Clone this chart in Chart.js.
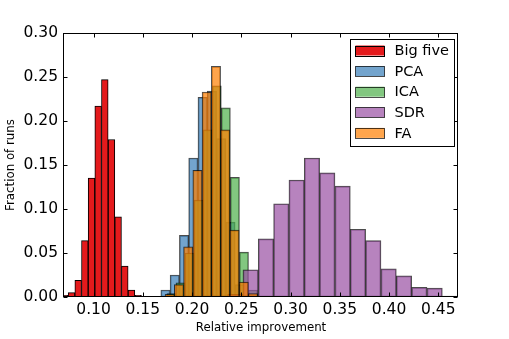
<!DOCTYPE html>
<html>
<head>
<meta charset="utf-8">
<script src="https://cdn.jsdelivr.net/npm/chart.js@4.4.1/dist/chart.umd.min.js"></script>
<style>
  html, body { margin: 0; padding: 0; background: #fff; }
</style>
</head>
<body>
<canvas id="hist" width="509" height="339"></canvas>
<script>
// histogram data
const seriesNames = ["Big five", "PCA", "ICA", "SDR", "FA"];
// first bin edge and bin width of every series
const binStarts = [0.0675, 0.1683, 0.1745, 0.2361, 0.1726];
const binWidths = [0.00676, 0.00943, 0.0092, 0.01557, 0.0094];

const bigFive = [0.002, 0.005, 0.019, 0.064, 0.135, 0.217, 0.247, 0.179, 0.091, 0.035, 0.008, 0.002];
const pca = [0.008, 0.025, 0.070, 0.158, 0.227, 0.234, 0.180, 0.085, 0.014, 0.002];
const ica = [0.004, 0.016, 0.050, 0.110, 0.190, 0.240, 0.215, 0.136, 0.051, 0.008];
const sdr = [0.003, 0.031, 0.066, 0.106, 0.133, 0.158, 0.141, 0.126, 0.077, 0.064, 0.032, 0.024, 0.011, 0.010, 0.001];
const fa = [0.003, 0.014, 0.057, 0.144, 0.233, 0.262, 0.190, 0.076, 0.017, 0.004];

const xTicks = [0.10, 0.15, 0.20, 0.25, 0.30, 0.35, 0.40, 0.45];
const yTicks = [0.00, 0.05, 0.10, 0.15, 0.20, 0.25, 0.30];

const fills = ["#e41a1c", "rgba(55,126,184,0.7)", "rgba(77,175,74,0.7)", "rgba(152,78,163,0.7)", "rgba(255,127,0,0.7)"];
const edges = ["#000", "rgba(0,0,0,0.7)", "rgba(0,0,0,0.7)", "rgba(0,0,0,0.7)", "rgba(0,0,0,0.7)"];

Chart.defaults.font.family = "DejaVu Sans";
Chart.defaults.color = "#000";

const toPoints = (vals, start, width) =>
  vals.map((y, i) => ({ x: start + (i + 0.5) * width, y: y }));

const allValues = [bigFive, pca, ica, sdr, fa];
const axisIds = ["x", "xh1", "xh2", "xh3", "xh4"];

const datasets = allValues.map((vals, i) => ({
  label: seriesNames[i],
  data: toPoints(vals, binStarts[i], binWidths[i]),
  xAxisID: axisIds[i],
  backgroundColor: fills[i],
  borderColor: edges[i],
  borderWidth: 1,
  borderSkipped: false,
  barPercentage: 1,
  categoryPercentage: 1,
  grouped: false,
  order: 5 - i, // later series drawn on top
}));

const setXTicks = (s) => { s.ticks = xTicks.map((v) => ({ value: v })); };

// every series gets its own hidden x axis so bar widths follow its bin width
const hiddenAxis = () => ({
  type: "linear", axis: "x", position: "bottom", display: false,
  min: 0.07, max: 0.47, offset: false, afterBuildTicks: setXTicks,
});

// frame, inward ticks and the boxed legend, matplotlib style
const framePlugin = {
  id: "frame",
  afterDraw(chart) {
    const { ctx, chartArea: a, scales } = chart;
    ctx.save();
    ctx.strokeStyle = "#000";
    ctx.lineWidth = 1;
    const L = Math.round(a.left) - 0.5, R = Math.round(a.right) - 0.5;
    const T = Math.round(a.top) + 0.5, B = Math.round(a.bottom) - 0.5;
    ctx.strokeRect(L, T, R - L, B - T);
    ctx.beginPath();
    xTicks.forEach((v) => {
      const px = Math.round(scales.x.getPixelForValue(v)) + 0.5;
      ctx.moveTo(px, B); ctx.lineTo(px, B - 4);
      ctx.moveTo(px, T); ctx.lineTo(px, T + 4);
    });
    yTicks.forEach((v) => {
      const py = Math.round(scales.y.getPixelForValue(v)) + 0.5;
      ctx.moveTo(L, py); ctx.lineTo(L + 4, py);
      ctx.moveTo(R, py); ctx.lineTo(R - 4, py);
    });
    ctx.stroke();

    // legend
    const boxL = a.right - 107.5, boxT = a.top + 6.5, boxW = 104, boxH = 107;
    ctx.fillStyle = "#fff";
    ctx.fillRect(boxL, boxT, boxW, boxH);
    ctx.strokeRect(boxL, boxT, boxW, boxH);
    ctx.font = "14.5px 'DejaVu Sans'";
    ctx.textBaseline = "middle";
    seriesNames.forEach((name, i) => {
      const cy = boxT + 11 + i * 20.6;
      ctx.fillStyle = "#fff";
      ctx.fillRect(boxL + 5, cy - 5, 29, 10);
      ctx.fillStyle = fills[i];
      ctx.fillRect(boxL + 5, cy - 5, 29, 10);
      ctx.strokeStyle = edges[i];
      ctx.strokeRect(boxL + 5, Math.round(cy - 5) + 0.5, 29, 10);
      ctx.fillStyle = "#000";
      ctx.fillText(name, boxL + 44, cy + 1);
    });
    ctx.restore();
  },
};

new Chart(document.getElementById("hist"), {
  type: "bar",
  data: { datasets: datasets },
  options: {
    responsive: false,
    animation: false,
    devicePixelRatio: 1,
    layout: { padding: { left: 0, top: 33, right: 51, bottom: 0 } },
    plugins: { legend: { display: false }, tooltip: { enabled: false } },
    scales: {
      x: {
        type: "linear", position: "bottom", min: 0.07, max: 0.47, offset: false,
        afterBuildTicks: setXTicks,
        afterFit: (s) => { s.height = 42; },
        grid: { display: false, drawTicks: false },
        border: { display: false },
        ticks: {
          color: "#000", font: { size: 15.5 }, padding: 4,
          maxRotation: 0, autoSkip: false,
          callback: (v) => v.toFixed(2),
        },
        title: {
          display: true, text: "Relative improvement", color: "#000",
          font: { size: 11.8 }, padding: { top: 0, bottom: 4 },
        },
      },
      xh1: hiddenAxis(),
      xh2: hiddenAxis(),
      xh3: hiddenAxis(),
      xh4: hiddenAxis(),
      y: {
        min: 0, max: 0.3,
        afterBuildTicks: (s) => { s.ticks = yTicks.map((v) => ({ value: v })); },
        afterFit: (s) => { s.width = 64; },
        grid: { display: false, drawTicks: false },
        border: { display: false },
        ticks: { color: "#000", font: { size: 15.5 }, padding: 6, callback: (v) => v.toFixed(2) },
        title: {
          display: true, text: "Fraction of runs", color: "#000",
          font: { size: 11.8 }, padding: { top: 4, bottom: 0 },
        },
      },
    },
  },
  plugins: [framePlugin],
});
</script>
</body>
</html>
